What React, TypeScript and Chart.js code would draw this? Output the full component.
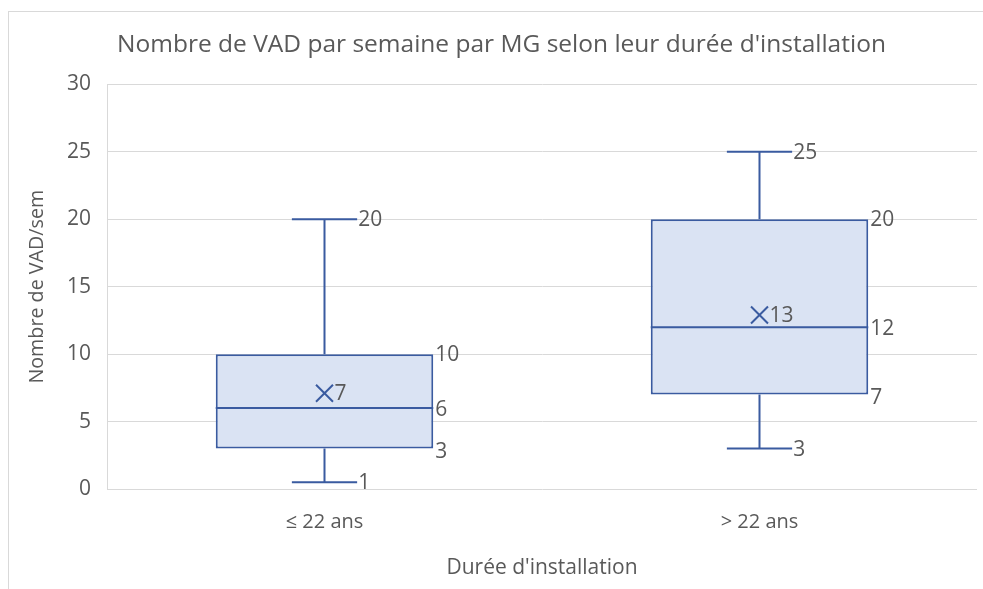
import React, { useEffect, useRef } from "react";
import { Chart, registerables } from "chart.js";

Chart.register(...registerables);

const categories = ["≤ 22 ans", "> 22 ans"];
const minValues = [0.5, 3];
const q1Values = [3, 7];
const medianValues = [6, 12];
const q3Values = [10, 20];
const maxValues = [20, 25];
const meanValues = [7.1, 12.9];

const yTicks = [0, 5, 10, 15, 20, 25, 30];

const FONT = "'Open Sans', 'Liberation Sans', sans-serif";
const TEXT = "#595959";
const STROKE = "#3A5BA0";
const FILL = "#DAE3F3";
const GRID = "#D9D9D9";

const fmt = (v: number) => String(Math.round(v));

const boxPlugin = {
  id: "boxExtras",
  beforeDraw(chart: any) {
    const { ctx } = chart;
    ctx.save();
    ctx.strokeStyle = GRID;
    ctx.lineWidth = 1;
    ctx.strokeRect(8.5, 11.5, 2000, 2000);
    ctx.restore();
  },
  afterDatasetsDraw(chart: any) {
    const { ctx } = chart;
    const y = chart.scales.y;
    const meta = chart.getDatasetMeta(0);
    const meanMeta = chart.getDatasetMeta(1);
    ctx.save();
    ctx.strokeStyle = STROKE;
    ctx.lineWidth = 2;
    ctx.font = `21px ${FONT}`;
    ctx.fillStyle = TEXT;
    ctx.textBaseline = "middle";
    ctx.textAlign = "left";
    meta.data.forEach((bar: any, i: number) => {
      const cx = bar.x;
      const w = bar.width;
      const left = cx - w / 2;
      const right = cx + w / 2;
      const capHalf = w * 0.15;
      const yMin = y.getPixelForValue(minValues[i]);
      const yQ1 = y.getPixelForValue(q1Values[i]);
      const yMed = y.getPixelForValue(medianValues[i]);
      const yQ3 = y.getPixelForValue(q3Values[i]);
      const yMax = y.getPixelForValue(maxValues[i]);
      ctx.beginPath();
      ctx.moveTo(left, yMed);
      ctx.lineTo(right, yMed);
      ctx.moveTo(cx, yQ3);
      ctx.lineTo(cx, yMax);
      ctx.moveTo(cx - capHalf, yMax);
      ctx.lineTo(cx + capHalf, yMax);
      ctx.moveTo(cx, yQ1);
      ctx.lineTo(cx, yMin);
      ctx.moveTo(cx - capHalf, yMin);
      ctx.lineTo(cx + capHalf, yMin);
      ctx.stroke();
      ctx.fillText(fmt(maxValues[i]), cx + capHalf + 1, yMax + 1);
      ctx.fillText(fmt(minValues[i]), cx + capHalf + 1, yMin + 1);
      ctx.fillText(fmt(q3Values[i]), right + 2, yQ3 + 1);
      ctx.fillText(fmt(medianValues[i]), right + 2, yMed + 2);
      ctx.fillText(fmt(q1Values[i]), right + 2, yQ1 + 3);
      const mp = meanMeta.data[i];
      ctx.fillText(fmt(meanValues[i]), mp.x + 10, mp.y + 1);
    });
    ctx.restore();
  },
};

export default function App() {
  const ref = useRef<HTMLCanvasElement | null>(null);
  useEffect(() => {
    if (!ref.current) return;
    const chart = new Chart(ref.current, {
      type: "bar",
      data: {
        labels: categories,
        datasets: [
          {
            type: "bar",
            label: "Boîte",
            data: q1Values.map((q, i) => [q, q3Values[i]]) as any,
            backgroundColor: FILL,
            borderColor: STROKE,
            borderWidth: 2,
            borderSkipped: false,
            categoryPercentage: 1,
            barPercentage: 0.5,
            order: 2,
          },
          {
            type: "line",
            label: "Moyenne",
            data: meanValues,
            showLine: false,
            pointStyle: "crossRot",
            pointRadius: 12,
            pointBorderWidth: 2,
            pointBorderColor: STROKE,
            borderColor: STROKE,
            backgroundColor: STROKE,
            order: 1,
          } as any,
        ],
      },
      options: {
        responsive: false,
        animation: false,
        layout: { autoPadding: false, padding: { left: 26, right: 6, top: 0, bottom: 0 } },
        plugins: {
          legend: { display: false },
          tooltip: { enabled: false },
          title: {
            display: true,
            text: "Nombre de VAD par semaine par MG selon leur durée d'installation",
            color: TEXT,
            font: { family: FONT, size: 24.5, weight: "normal" as any },
            padding: { top: 30, bottom: 25 },
          },
        },
        scales: {
          x: {
            type: "category",
            offset: true,
            grid: { display: false, drawTicks: false },
            border: { display: false },
            ticks: { color: TEXT, font: { family: FONT, size: 20 }, padding: 21 },
            title: {
              display: true,
              text: "Durée d'installation",
              color: TEXT,
              font: { family: FONT, size: 21 },
              padding: { top: 0, bottom: 8 },
            },
            afterFit: (s: any) => {
              s.height = 100;
            },
          },
          y: {
            min: 0,
            max: 30,
            afterBuildTicks: (s: any) => {
              s.ticks = yTicks.map((v) => ({ value: v }));
            },
            grid: { color: GRID, lineWidth: 1, drawTicks: false },
            border: { display: true, color: GRID, width: 1 },
            ticks: { color: TEXT, font: { family: FONT, size: 21 }, padding: 16 },
            title: {
              display: true,
              text: "Nombre de VAD/sem",
              color: TEXT,
              font: { family: FONT, size: 19.7 },
              padding: { top: 0, bottom: 0 },
            },
            afterFit: (s: any) => {
              s.width = 81;
            },
          },
        },
      },
      plugins: [boxPlugin],
    });
    return () => chart.destroy();
  }, []);
  return (
    <div style={{ position: "absolute", left: 0, top: 0, width: 983, height: 589, background: "#fff" }}>
      <canvas ref={ref} width={983} height={589} />
    </div>
  );
}
